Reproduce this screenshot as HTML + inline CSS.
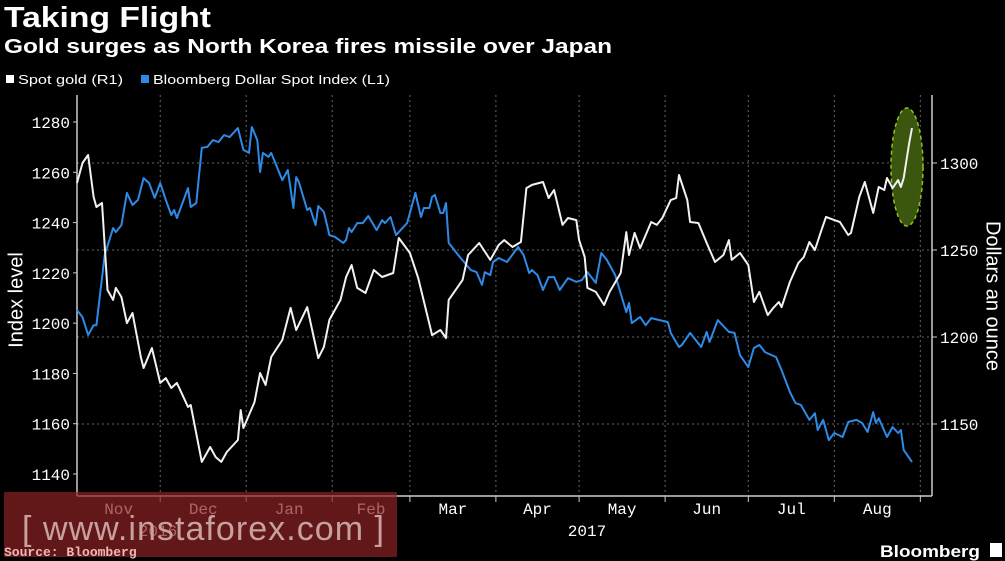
<!DOCTYPE html>
<html><head><meta charset="utf-8">
<style>
html,body{margin:0;padding:0;background:#000;}
body{width:1005px;height:561px;overflow:hidden;position:relative;font-family:"Liberation Mono","DejaVu Sans Mono",monospace;}
svg{position:absolute;left:0;top:0;}
</style></head>
<body>
<svg id="chart" width="1005" height="561" viewBox="0 0 1005 561">
  <text x="4" y="27" fill="#fff" font-family="Liberation Sans, sans-serif" font-weight="bold" font-size="29" textLength="207" lengthAdjust="spacingAndGlyphs">Taking Flight</text>
  <text x="4" y="53" fill="#fff" font-family="Liberation Sans, sans-serif" font-weight="bold" font-size="20" textLength="608" lengthAdjust="spacingAndGlyphs">Gold surges as North Korea fires missile over Japan</text>
  <g>
    <rect x="6" y="75" width="8" height="8" fill="#fff"/>
    <text x="18" y="84" fill="#fff" font-size="13" font-family="Liberation Sans, sans-serif" textLength="105" lengthAdjust="spacingAndGlyphs">Spot gold (R1)</text>
    <rect x="141" y="75" width="8" height="8" fill="#2d8ae6"/>
    <text x="153" y="84" fill="#fff" font-size="13" font-family="Liberation Sans, sans-serif" textLength="237" lengthAdjust="spacingAndGlyphs">Bloomberg Dollar Spot Index (L1)</text>
  </g>
  <g id="grid"></g>
  <g id="axes"></g>
  <ellipse cx="907" cy="167" rx="16" ry="59" fill="#3a560f" stroke="#8fc31f" stroke-width="1.5" stroke-dasharray="4,3"/>
  <g id="series"></g>
  <text x="17" y="300" fill="#fff" font-size="20" font-family="Liberation Sans, sans-serif" text-anchor="middle" transform="rotate(-90 17 300)" dominant-baseline="middle">Index level</text>
  <text x="992" y="296" fill="#fff" font-size="20" font-family="Liberation Sans, sans-serif" text-anchor="middle" transform="rotate(90 992 296)" dominant-baseline="middle">Dollars an ounce</text>
  <text x="158" y="536" fill="#fff" font-size="16" text-anchor="middle">2016</text>
  <text x="587" y="536" fill="#fff" font-size="16" text-anchor="middle">2017</text>
  <rect x="4" y="492" width="393" height="65" fill="#8b2222" opacity="0.7"/>
  <text x="22" y="540" fill="#c8a0a0" font-size="34" font-family="Liberation Sans, sans-serif" textLength="362">[ www.instaforex.com ]</text>
  <text x="4" y="556" fill="#f0b8b8" font-size="13" font-weight="bold">Source: Bloomberg</text>
  <text x="880" y="557" fill="#fff" font-size="17" font-weight="bold" font-family="Liberation Sans, sans-serif" textLength="100" lengthAdjust="spacingAndGlyphs">Bloomberg</text>
  <rect x="990" y="543" width="12" height="14" fill="#fff"/>
</svg>
<script>
const goldDays=[0,2,4,6,7,9,11,13,14,16,18,20,23,24,27,30,32,34,36,40,41,45,48,50,52,54,58,59,60,64,66,68,70,74,77,79,83,87,89,91,95,97,99,101,104,107,110,114,116,120,123,128,131,133,134,139,141,145,149,152,154,157,160,162,164,168,170,172,175,177,180,181,183,184,187,190,192,196,198,199,201,203,205,207,209,211,214,216,217,220,221,224,227,230,233,235,236,239,242,244,246,249,251,253,254,257,260,262,264,266,268,270,273,275,278,279,282,284,287,289,291,292,294,296,297,298,300,301];
const goldValues=[1288.5,1300,1304.6,1280.5,1274.7,1277,1227,1221.3,1228.2,1223,1208,1213.8,1188.5,1182.2,1193.7,1173.6,1176.4,1170.7,1173.6,1159.8,1160.9,1128.2,1136.8,1131,1128.2,1133.9,1140.8,1158,1147.7,1162.6,1179.3,1172.4,1188.5,1198.3,1216.7,1204,1217.2,1187.9,1194.3,1209.8,1221.3,1234.5,1241.4,1228.2,1225.3,1238.5,1234.5,1236.8,1256.9,1248.3,1233.9,1201.1,1204,1199.4,1221.3,1232.8,1247.1,1254,1244.3,1252.9,1255.7,1251.7,1254.6,1285.6,1287.4,1289.1,1279.9,1284.5,1264.4,1268.4,1267.2,1255.7,1246,1228.2,1225.9,1218.4,1225.9,1236.8,1260.3,1247.1,1259.8,1251.1,1258.6,1266.1,1264.4,1268.4,1278.7,1279.9,1293.1,1278.7,1266.1,1265.5,1254,1243.1,1247.1,1255.7,1244.3,1248.3,1241.4,1220.1,1225.9,1212.6,1216.7,1220.1,1217.2,1231.6,1242.5,1246,1254.6,1250,1259.8,1269,1267.2,1266.1,1258.6,1259.8,1280.5,1289.1,1271.3,1286.2,1284.5,1291.4,1285.6,1290.2,1286.2,1291.4,1311.5,1320.1];
const dollarDays=[0,2,4,6,7,10,13,14,16,18,20,22,24,26,28,30,32,34,35,36,40,41,43,45,47,49,51,53,55,58,60,62,63,65,66,67,69,70,74,76,78,79,80,83,84,86,87,89,91,93,96,97,98,99,101,103,105,108,110,111,113,115,119,122,124,125,127,128,129,131,132,133,134,138,142,144,146,147,149,150,152,155,159,161,163,164,166,168,170,172,174,177,180,182,184,187,189,191,194,198,199,200,203,205,207,210,213,214,217,218,221,225,227,228,231,235,237,239,242,244,246,248,252,254,257,259,261,264,266,267,269,271,273,276,278,281,283,285,287,288,289,292,294,296,297,298,301];
const dollarValues=[1205.2,1202.4,1195.3,1199.2,1199.2,1227.1,1237.8,1236.2,1239,1251.8,1247,1249,1257.7,1255.7,1249.8,1255.7,1249,1243,1245,1241.8,1253.7,1246.2,1247.8,1269.7,1270.1,1272.8,1272,1274.8,1274,1277.6,1268.9,1267.7,1278,1272.8,1260.1,1267.7,1266.1,1267.7,1256.9,1260.9,1245.8,1258.1,1256.1,1245,1245.8,1239,1246.6,1244.2,1235,1234.3,1231.9,1233.1,1237.8,1236.2,1239.8,1239.8,1242.6,1237,1241,1239.8,1242.2,1235,1239.8,1251.8,1242.2,1245.8,1245.8,1250.2,1251,1243.8,1243.8,1247.8,1231.9,1226.3,1221.1,1220.3,1215.2,1220.3,1219.1,1224.3,1225.9,1224.3,1230.3,1227.1,1219.9,1221.1,1219.1,1213.2,1218.3,1218.3,1213.2,1217.9,1216.4,1217.1,1220.3,1216,1227.9,1225.1,1219.1,1204.4,1208,1200,1202.4,1199.2,1202,1201.2,1200.4,1196.1,1190.5,1191.3,1196.1,1190.5,1196.5,1192.5,1201.2,1196.5,1196.1,1187.3,1182.5,1190.1,1191.3,1188.5,1186.5,1181.3,1172.6,1168.2,1167.4,1161.5,1164.2,1157.5,1161.5,1153.5,1156.3,1154.7,1160.7,1161.5,1160.3,1156.7,1164.6,1160.3,1162.2,1154.7,1158.7,1156.3,1157.5,1149.5,1144.8];
const leftTicks=[1140,1160,1180,1200,1220,1240,1260,1280];
const rightTicks=[1150,1200,1250,1300];
const monthLabels=["Nov","Dec","Jan","Feb","Mar","Apr","May","Jun","Jul","Aug"];
const monthStartDays=[0,30,61,92,120,151,181,212,242,273,304];

const NS="http://www.w3.org/2000/svg";
const X0=77,X1=912,D0=0,D1=301;
function xs(d){return X0+(d-D0)*(X1-X0)/(D1-D0);}
function yl(v){return 122+(1280-v)*(474-122)/140;}
function yr(v){return 163+(1300-v)*(424-163)/150;}
function mk(tag,attrs,parent){const e=document.createElementNS(NS,tag);for(const k in attrs)e.setAttribute(k,attrs[k]);parent.appendChild(e);return e;}
const grid=document.getElementById('grid'),axes=document.getElementById('axes'),series=document.getElementById('series');

rightTicks.forEach(v=>{
  const y=yr(v);
  const g=mk('line',{x1:X0,x2:932,y1:y,y2:y,stroke:'#666','stroke-width':1,'stroke-dasharray':'2,3'},grid);
  
  
  const t=mk('line',{x1:932,x2:937,y1:y,y2:y,stroke:'#ccc'},axes);
  
  
  const lab=mk('text',{x:940,y:y+6,fill:'#fff','font-size':16},axes);
  lab.textContent=v;
  
  
});
leftTicks.forEach(v=>{
  const y=yl(v);
  const t=mk('line',{x1:73,x2:77,y1:y,y2:y,stroke:'#ccc'},axes);
  
  
  const lab=mk('text',{x:70,y:y+6,fill:'#fff','font-size':16,'text-anchor':'end'},axes);
  lab.textContent=v;
  
  
});
monthStartDays.forEach((d,i)=>{
  const x=xs(d);
  if(i>0){
    const g=mk('line',{x1:x,x2:x,y1:95,y2:496,stroke:'#666','stroke-width':1,'stroke-dasharray':'2,3'},grid);
    
    
    const t=mk('line',{x1:x,x2:x,y1:496,y2:502,stroke:'#ccc'},axes);
    
    
  }
  if(i<monthLabels.length){
    const mid=(xs(d)+xs(monthStartDays[i+1]))/2;
    const lab=mk('text',{x:mid,y:514,fill:'#fff','font-size':16,'text-anchor':'middle'},axes);
    lab.textContent=monthLabels[i];
    
    
  }
});
const a1=mk('line',{x1:X0,x2:X0,y1:95,y2:496,stroke:'#ccc','stroke-width':1.5},axes);


const a2=mk('line',{x1:932,x2:932,y1:95,y2:496,stroke:'#ccc','stroke-width':1.5},axes);


const a3=mk('line',{x1:X0,x2:932,y1:496,y2:496,stroke:'#ccc','stroke-width':1.5},axes);



const dp=dollarDays.map((d,i)=>xs(d).toFixed(1)+','+yl(dollarValues[i]).toFixed(1)).join(' ');
const dl=mk('polyline',{points:dp,fill:'none',stroke:'#2d8ae6','stroke-width':2,'stroke-linejoin':'round'},series);


const gp=goldDays.map((d,i)=>xs(d).toFixed(1)+','+yr(goldValues[i]).toFixed(1)).join(' ');
const gl=mk('polyline',{points:gp,fill:'none',stroke:'#f2f2f2','stroke-width':2,'stroke-linejoin':'round'},series);


</script>
</body></html>
